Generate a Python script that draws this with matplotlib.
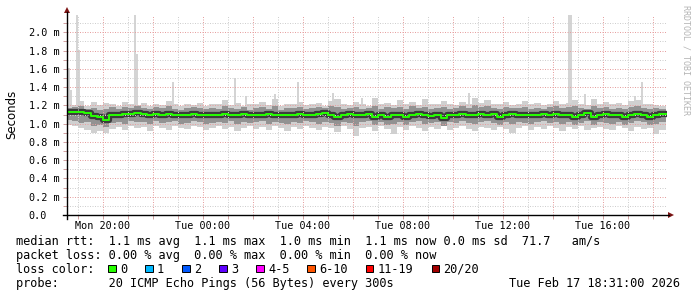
import numpy as np
import matplotlib
matplotlib.use("Agg")
import matplotlib.pyplot as plt
import matplotlib.dates as mdates
from matplotlib.patches import Rectangle, Polygon
from matplotlib.lines import Line2D
from matplotlib.ticker import MultipleLocator, FuncFormatter

W, H = 697, 297
MONO = "DejaVu Sans Mono"

# 15 minute steps from Mon 18:30 to Tue 18:15 (values in ms)
steps = np.datetime64("2026-02-16T18:30") + np.arange(96) * np.timedelta64(15, "m")

median_ms = [
    1.13, 1.13, 1.13, 1.12, 1.08, 1.07, 1.04, 1.10, 1.09, 1.11, 1.11, 1.12,
    1.11, 1.10, 1.11, 1.10, 1.11, 1.10, 1.09, 1.10, 1.11, 1.10, 1.10, 1.09,
    1.10, 1.11, 1.10, 1.10, 1.11, 1.09, 1.10, 1.10, 1.11, 1.10, 1.09, 1.10,
    1.10, 1.11, 1.10, 1.10, 1.11, 1.12, 1.10, 1.07, 1.10, 1.11, 1.09, 1.10,
    1.11, 1.07, 1.10, 1.07, 1.10, 1.09, 1.07, 1.10, 1.11, 1.09, 1.08, 1.10,
    1.06, 1.10, 1.09, 1.11, 1.10, 1.09, 1.11, 1.10, 1.11, 1.07, 1.10, 1.11,
    1.10, 1.09, 1.10, 1.10, 1.11, 1.10, 1.11, 1.10, 1.10, 1.07, 1.10, 1.12,
    1.07, 1.10, 1.11, 1.10, 1.09, 1.07, 1.10, 1.11, 1.10, 1.07, 1.10, 1.11,
]
smoke_lo = [
    0.99, 0.97, 0.95, 0.93, 0.90, 0.92, 0.90, 0.94, 0.96, 0.93, 0.97, 0.95,
    0.96, 0.92, 0.97, 0.95, 0.93, 0.98, 0.95, 0.94, 0.97, 0.96, 0.93, 0.95,
    0.97, 0.94, 0.96, 0.92, 0.95, 0.97, 0.94, 0.96, 0.93, 0.97, 0.95, 0.92,
    0.96, 0.94, 0.97, 0.95, 0.93, 0.96, 0.95, 0.91, 0.97, 0.94, 0.87, 0.95,
    0.96, 0.92, 0.97, 0.94, 0.89, 0.96, 0.93, 0.97, 0.95, 0.92, 0.96, 0.94,
    0.97, 0.93, 0.95, 0.97, 0.94, 0.92, 0.96, 0.95, 0.93, 0.96, 0.94, 0.90,
    0.95, 0.97, 0.93, 0.96, 0.94, 0.97, 0.95, 0.92, 0.96, 0.94, 0.97, 0.93,
    0.95, 0.96, 0.94, 0.93, 0.97, 0.95, 0.92, 0.96, 0.94, 0.95, 0.89, 0.93,
]
smoke_q1 = [
    1.04, 1.03, 1.01, 1.02, 0.98, 0.99, 0.96, 1.01, 1.02, 1.00, 1.03, 1.02,
    1.02, 1.00, 1.03, 1.01, 1.02, 1.03, 1.00, 1.01, 1.03, 1.02, 1.00, 1.01,
    1.02, 1.01, 1.03, 1.00, 1.02, 1.01, 1.02, 1.03, 1.00, 1.02, 1.01, 1.00,
    1.02, 1.01, 1.03, 1.02, 1.00, 1.02, 1.01, 0.98, 1.02, 1.01, 0.97, 1.02,
    1.03, 0.99, 1.02, 0.99, 1.00, 1.02, 0.99, 1.02, 1.03, 1.00, 1.01, 1.02,
    0.98, 1.02, 1.01, 1.03, 1.01, 1.00, 1.02, 1.03, 1.01, 0.99, 1.02, 1.00,
    1.02, 1.01, 1.00, 1.02, 1.03, 1.01, 1.02, 1.00, 1.02, 0.99, 1.01, 1.03,
    0.99, 1.02, 1.01, 1.00, 1.02, 0.99, 1.01, 1.03, 1.02, 0.99, 1.00, 1.02,
]
smoke_q3 = [
    1.17, 1.18, 1.19, 1.16, 1.17, 1.15, 1.16, 1.18, 1.16, 1.18, 1.17, 1.19,
    1.17, 1.16, 1.18, 1.17, 1.19, 1.16, 1.15, 1.17, 1.18, 1.17, 1.16, 1.17,
    1.16, 1.19, 1.17, 1.16, 1.18, 1.15, 1.17, 1.18, 1.16, 1.19, 1.15, 1.17,
    1.17, 1.18, 1.16, 1.17, 1.18, 1.17, 1.19, 1.18, 1.16, 1.17, 1.18, 1.16,
    1.17, 1.19, 1.16, 1.18, 1.17, 1.18, 1.16, 1.19, 1.17, 1.18, 1.16, 1.17,
    1.18, 1.16, 1.17, 1.19, 1.17, 1.20, 1.18, 1.19, 1.17, 1.16, 1.18, 1.17,
    1.17, 1.18, 1.16, 1.17, 1.16, 1.18, 1.19, 1.17, 1.18, 1.19, 1.17, 1.16,
    1.19, 1.17, 1.18, 1.16, 1.17, 1.16, 1.18, 1.19, 1.17, 1.16, 1.17, 1.16,
]
smoke_hi = [
    1.22, 1.20, 1.25, 1.19, 1.24, 1.20, 1.23, 1.21, 1.19, 1.24, 1.22, 1.20,
    1.23, 1.19, 1.22, 1.20, 1.25, 1.21, 1.19, 1.22, 1.20, 1.23, 1.19, 1.21,
    1.22, 1.26, 1.20, 1.23, 1.19, 1.22, 1.21, 1.24, 1.20, 1.27, 1.19, 1.22,
    1.21, 1.24, 1.20, 1.22, 1.23, 1.19, 1.25, 1.27, 1.21, 1.20, 1.24, 1.22,
    1.19, 1.28, 1.22, 1.23, 1.20, 1.26, 1.21, 1.24, 1.20, 1.27, 1.22, 1.21,
    1.25, 1.21, 1.20, 1.24, 1.22, 1.28, 1.23, 1.26, 1.22, 1.21, 1.24, 1.20,
    1.22, 1.25, 1.21, 1.23, 1.20, 1.22, 1.25, 1.21, 1.23, 1.26, 1.22, 1.20,
    1.27, 1.22, 1.24, 1.21, 1.23, 1.20, 1.25, 1.26, 1.22, 1.21, 1.20, 1.19,
]

# single slow pings (5 minute slots)
spike_times = [
    "2026-02-16T18:35", "2026-02-16T18:40", "2026-02-16T18:55", "2026-02-16T19:00",
    "2026-02-16T21:15", "2026-02-16T21:20", "2026-02-16T22:45", "2026-02-17T01:15",
    "2026-02-17T01:40", "2026-02-17T02:50", "2026-02-17T03:45", "2026-02-17T05:10",
    "2026-02-17T06:20", "2026-02-17T10:35", "2026-02-17T14:35", "2026-02-17T14:40",
    "2026-02-17T15:15", "2026-02-17T17:15", "2026-02-17T17:30",
]
spike_tops = [1.61, 1.37, 2.20, 1.81, 2.20, 1.76, 1.46, 1.50, 1.30, 1.32,
              1.46, 1.34, 1.28, 1.34, 2.20, 2.20, 1.32, 1.30, 1.46]

loss_labels = ["0", "1", "2", "3", "4-5", "6-10", "11-19", "20/20"]
loss_colors = ["#26ff00", "#00b8ff", "#0059ff", "#5e00ff", "#ff00ff",
               "#ff5500", "#ff0000", "#a10000"]

rows = [
    "median rtt:  1.1 ms avg  1.1 ms max  1.0 ms min  1.1 ms now 0.0 ms sd  71.7   am/s",
    "packet loss: 0.00 % avg  0.00 % max  0.00 % min  0.00 % now",
    "loss color:",
    "probe:       20 ICMP Echo Pings (56 Bytes) every 300s",
]
stamp = "Tue Feb 17 18:31:00 2026"


def fx(x):
    return x / W


def fy(y):
    return 1 - y / H


fig = plt.figure(figsize=(W / 100, H / 100), dpi=100)
ax = fig.add_axes([fx(67), fy(215), 600 / W, 200 / H])

x = mdates.date2num(steps)
x_edges = np.append(x, x[-1] + 15 / 1440)
ext = lambda v: np.append(v, v[-1])

sx = mdates.date2num(np.array(spike_times, dtype="datetime64[m]"))
ax.bar(sx, np.array(spike_tops) - 1.12, bottom=1.12, width=5 / 1440,
       align="edge", color="#d4d4d4", lw=0, zorder=1)
ax.fill_between(x_edges, ext(smoke_lo), ext(smoke_hi), step="post",
                color="#d0d0d0", lw=0, zorder=1)
ax.fill_between(x_edges, ext(smoke_q1), ext(smoke_q3), step="post",
                color="#929292", lw=0, zorder=1.1)
ax.step(x_edges, ext(median_ms), where="post", color="#3c3c3c", lw=4.5, zorder=1.2)
ax.step(x_edges, ext(median_ms), where="post", color="#26ff00", lw=1.4, zorder=3)

end = np.datetime64("2026-02-17T18:33:36")
ax.set_xlim(mdates.date2num(end - np.timedelta64(24, "h")), mdates.date2num(end))
ax.set_ylim(0, 2.19)

ax.xaxis.set_major_locator(mdates.HourLocator(byhour=range(0, 24, 2)))
ax.xaxis.set_minor_locator(mdates.HourLocator())
ax.xaxis.set_major_formatter(FuncFormatter(
    lambda v, p: mdates.num2date(v).strftime("%a %H:%M") if mdates.num2date(v).hour % 4 == 0 else ""))
ax.yaxis.set_major_locator(MultipleLocator(0.2))
ax.yaxis.set_minor_locator(MultipleLocator(0.1))
ax.yaxis.set_major_formatter(FuncFormatter(lambda v, p: "0.0" if abs(v) < 1e-9 else f"{v:.1f} m"))

ax.set_axisbelow(False)
ax.grid(which="major", color="#e6a0a0", linestyle=(0, (1, 1.5)), lw=0.72, zorder=2.5)
ax.grid(which="minor", color="#cfcfcf", linestyle=(0, (1, 1.5)), lw=0.72, zorder=2.4)
for s in ax.spines.values():
    s.set_visible(False)

ax.tick_params(which="both", length=3, width=0.7, color="#d0a0a0", labelsize=7.3)
ax.tick_params(axis="x", pad=1.5)
ax.tick_params(axis="y", pad=24.5)
for lab in ax.get_xticklabels() + ax.get_yticklabels():
    lab.set_fontfamily(MONO)
for lab in ax.get_yticklabels():
    lab.set_horizontalalignment("left")

# axes with arrows
fig.add_artist(Line2D([fx(63), fx(669)], [fy(215), fy(215)], color="black", lw=1.0))
fig.add_artist(Line2D([fx(67), fx(67)], [fy(219), fy(12)], color="black", lw=1.0))
fig.add_artist(Polygon([(fx(668), fy(212)), (fx(674), fy(215)), (fx(668), fy(218))],
                       closed=True, transform=fig.transFigure, color="#7d1414", lw=0))
fig.add_artist(Polygon([(fx(64), fy(13)), (fx(67), fy(7)), (fx(70), fy(13))],
                       closed=True, transform=fig.transFigure, color="#7d1414", lw=0))

fig.text(fx(12), fy(114), "Seconds", rotation=90, ha="center", va="center",
         fontsize=8.5, family="DejaVu Sans")
fig.text(fx(686), fy(5), "RRDTOOL / TOBI OETIKER", rotation=270, ha="center", va="top",
         fontsize=6, family=MONO, color="#b4b4b4")

baselines = [245.5, 259.5, 273, 287]
for txt, yb in zip(rows, baselines):
    fig.text(fx(16), fy(yb), txt, ha="left", va="baseline", fontsize=8.6, family=MONO)
fig.text(fx(680), fy(baselines[3]), stamp, ha="right", va="baseline", fontsize=8.6, family=MONO)

cw = 7.17
sq_x = 108
for lab, col in zip(loss_labels, loss_colors):
    fig.add_artist(Rectangle((fx(sq_x), fy(272)), 7.5 / W, 7.5 / H, transform=fig.transFigure,
                             facecolor=col, edgecolor="black", lw=0.7))
    fig.text(fx(sq_x + 12), fy(baselines[2]), lab, ha="left", va="baseline",
             fontsize=8.6, family=MONO)
    sq_x += 37 + (len(lab) - 1) * cw

fig.savefig("out.png", dpi=100, facecolor="white")
